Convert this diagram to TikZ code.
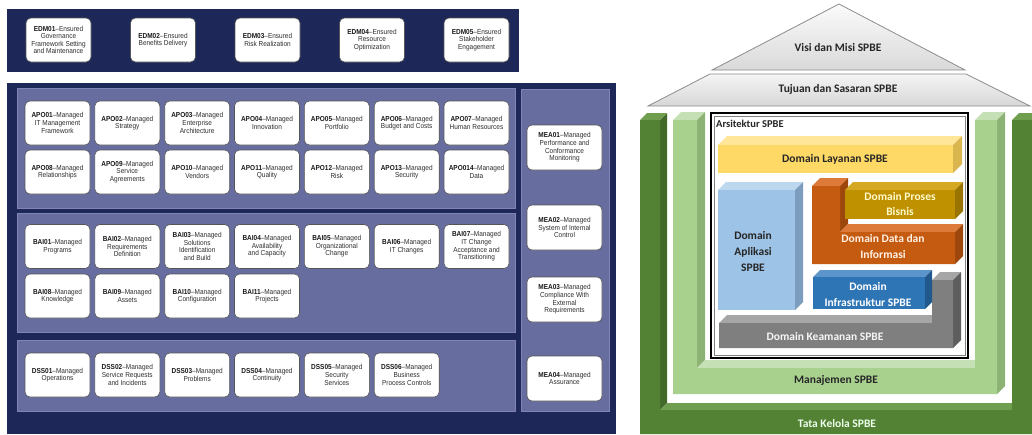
\documentclass[tikz,border=0pt]{standalone}
\usepackage{fontspec}
\setmainfont{Liberation Sans}
\newfontfamily\cobitfont[FakeStretch=0.9]{Liberation Sans}
\newfontfamily\spbefont{Carlito}
\definecolor{navy}{HTML}{1D2858}
\definecolor{lav}{HTML}{686D9F}
\definecolor{lavedge}{HTML}{7F84B5}
\definecolor{boxedge}{HTML}{555555}
\definecolor{cbtext}{HTML}{2E2E2E}
% SPBE palette
\definecolor{roofedge}{HTML}{8C8C8C}
\definecolor{dgF}{HTML}{548235}
\definecolor{dgT}{HTML}{6E9E4E}
\definecolor{dgS}{HTML}{42692A}
\definecolor{lgF}{HTML}{A9D18E}
\definecolor{lgT}{HTML}{C5E0B4}
\definecolor{lgS}{HTML}{8CB274}
\definecolor{yeF}{HTML}{FFD966}
\definecolor{yeT}{HTML}{FFE699}
\definecolor{yeS}{HTML}{D9B64E}
\definecolor{blF}{HTML}{9DC3E6}
\definecolor{blT}{HTML}{BDD7EE}
\definecolor{blS}{HTML}{7C9DBD}
\definecolor{orF}{HTML}{C55A11}
\definecolor{orT}{HTML}{DD7A3A}
\definecolor{orS}{HTML}{9E470C}
\definecolor{goF}{HTML}{BF9000}
\definecolor{goT}{HTML}{D4A820}
\definecolor{goS}{HTML}{9A7400}
\definecolor{inF}{HTML}{2E75B6}
\definecolor{inT}{HTML}{5B95CC}
\definecolor{inS}{HTML}{22598C}
\definecolor{kaF}{HTML}{7F7F7F}
\definecolor{kaT}{HTML}{A6A6A6}
\definecolor{kaS}{HTML}{5E5E5E}

% a box with a front face, a top face and a right face: x1,y1,x2,y2,depth,front,top,side
\newcommand\spbebox[8]{%
  \fill[#7] (#1,#2) -- (#1+#5,#2-#5) -- (#3+#5,#2-#5) -- (#3,#2) -- cycle;
  \fill[#8] (#3,#2) -- (#3+#5,#2-#5) -- (#3+#5,#4-#5) -- (#3,#4) -- cycle;
  \fill[#6] (#1,#2) rectangle (#3,#4);
}

\tikzset{
  cbox/.style={rectangle, rounded corners=5pt, fill=white, draw=boxedge,
    line width=0.6pt, minimum width=65pt, minimum height=44pt, align=center,
    inner sep=1pt, text=cbtext, font=\cobitfont\fontsize{7.2}{7.6}\selectfont},
  mbox/.style={cbox, minimum width=75pt, minimum height=45pt},
  band/.style={fill=lav, draw=lavedge, line width=0.6pt},
  label/.style={font=\spbefont\bfseries\fontsize{11.5}{13}\selectfont, align=center, inner sep=0pt},
}
\newcommand\code[1]{\textbf{\color{black!90}#1}}

\begin{document}
\begin{tikzpicture}[x=1pt,y=-1pt]
\useasboundingbox (0,0) rectangle (1032,434);
\fill[white] (0,0) rectangle (1032,434);

% ---------------- COBIT domains ----------------
\fill[navy] (7,9) rectangle (519,72);
\fill[navy] (7,83) rectangle (616,434);
\filldraw[band] (17,88) rectangle (515,208);
\filldraw[band] (17,213) rectangle (515,332);
\filldraw[band] (17,340) rectangle (515,411);
\filldraw[band] (521,89) rectangle (609,411);

% EDM
\node[cbox] (edm1) at (58.5,40) {\code{EDM01}–Ensured\\Governance\\Framework Setting\\and Maintenance};
\node[cbox] (edm2) at (163,40) {\code{EDM02}–Ensured\\Benefits Delivery};
\node[cbox] (edm3) at (267.5,40) {\code{EDM03}–Ensured\\Risk Realization};
\node[cbox] (edm4) at (372,40) {\code{EDM04}–Ensured\\Resource\\Optimization};
\node[cbox] (edm5) at (476.5,40) {\code{EDM05}–Ensured\\Stakeholder\\Engagement};

% APO
\node[cbox] (apo1) at (57.5,123) {\code{APO01}–Managed\\IT Management\\Framework};
\node[cbox] (apo2) at (127.3,123) {\code{APO02}–Managed\\Strategy};
\node[cbox] (apo3) at (197.2,123) {\code{APO03}–Managed\\Enterprise\\Architecture};
\node[cbox] (apo4) at (267,123) {\code{APO04}–Managed\\Innovation};
\node[cbox] (apo5) at (336.8,123) {\code{APO05}–Managed\\Portfolio};
\node[cbox] (apo6) at (406.7,123) {\code{APO06}–Managed\\Budget and Costs};
\node[cbox] (apo7) at (476.5,123) {\code{APO07}–Managed\\Human Resources};
\node[cbox] (apo8) at (57.5,172) {\code{APO08}–Managed\\Relationships};
\node[cbox] (apo9) at (127.3,172) {\code{APO09}–Managed\\Service\\Agreements};
\node[cbox] (apo10) at (197.2,172) {\code{APO10}–Managed\\Vendors};
\node[cbox] (apo11) at (267,172) {\code{APO11}–Managed\\Quality};
\node[cbox] (apo12) at (336.8,172) {\code{APO12}–Managed\\Risk};
\node[cbox] (apo13) at (406.7,172) {\code{APO13}–Managed\\Security};
\node[cbox] (apo14) at (476.5,172) {\code{APO014}–Managed\\Data};

% BAI
\node[cbox] (bai1) at (57.5,246.5) {\code{BAI01}–Managed\\Programs};
\node[cbox] (bai2) at (127.3,246.5) {\code{BAI02}–Managed\\Requirements\\Definition};
\node[cbox] (bai3) at (197.2,246.5) {\code{BAI03}–Managed\\Solutions\\Identification\\and Build};
\node[cbox] (bai4) at (267,246.5) {\code{BAI04}–Managed\\Availability\\and Capacity};
\node[cbox] (bai5) at (336.8,246.5) {\code{BAI05}–Managed\\Organizational\\Change};
\node[cbox] (bai6) at (406.7,246.5) {\code{BAI06}–Managed\\IT Changes};
\node[cbox] (bai7) at (476.5,246.5) {\code{BAI07}–Managed\\IT Change\\Acceptance and\\Transitioning};
\node[cbox] (bai8) at (57.5,296) {\code{BAI08}–Managed\\Knowledge};
\node[cbox] (bai9) at (127.3,296) {\code{BAI09}–Managed\\Assets};
\node[cbox] (bai10) at (197.2,296) {\code{BAI10}–Managed\\Configuration};
\node[cbox] (bai11) at (267,296) {\code{BAI11}–Managed\\Projects};

% DSS
\node[cbox] (dss1) at (57.5,375) {\code{DSS01}–Managed\\Operations};
\node[cbox] (dss2) at (127.3,375) {\code{DSS02}–Managed\\Service Requests\\and Incidents};
\node[cbox] (dss3) at (197.2,375) {\code{DSS03}–Managed\\Problems};
\node[cbox] (dss4) at (267,375) {\code{DSS04}–Managed\\Continuity};
\node[cbox] (dss5) at (336.8,375) {\code{DSS05}–Managed\\Security\\Services};
\node[cbox] (dss6) at (406.7,375) {\code{DSS06}–Managed\\Business\\Process Controls};

% MEA
\node[mbox] (mea1) at (564.5,147.5) {\code{MEA01}–Managed\\Performance and\\Conformance\\Monitoring};
\node[mbox] (mea2) at (564.5,227.5) {\code{MEA02}–Managed\\System of Internal\\Control};
\node[mbox] (mea3) at (564.5,299.5) {\code{MEA03}–Managed\\Compliance With\\External\\Requirements};
\node[mbox] (mea4) at (564.5,378.5) {\code{MEA04}–Managed\\Assurance};

% ---------------- SPBE house ----------------
% roof
\shade[top color=gray!3, bottom color=gray!30, draw=roofedge, line width=0.8pt]
  (839,4) -- (965,70) -- (712,70) -- cycle;
\shade[top color=gray!8, bottom color=gray!32, draw=roofedge, line width=0.8pt]
  (710,74) -- (966,74) -- (1030,106) -- (648,106) -- cycle;

% Tata Kelola (outer U)
\fill[dgS] (660,120) -- (667,113) -- (667,403) -- (660,410) -- cycle;
\fill[dgT] (640,120) -- (647,113) -- (667,113) -- (660,120) -- cycle;
\fill[dgT] (660,410) -- (667,403) -- (1019,403) -- (1012,410) -- cycle;
\fill[dgT] (1012,120) -- (1019,113) -- (1032,113) -- (1032,120) -- cycle;
\fill[dgF] (640,120) -- (660,120) -- (660,410) -- (1012,410) -- (1012,120)
  -- (1032,120) -- (1032,434) -- (640,434) -- cycle;

% Manajemen (inner U)
\fill[lgT] (673,120) -- (681,112) -- (705,112) -- (697,120) -- cycle;
\fill[lgS] (697,120) -- (705,112) -- (705,360) -- (697,368) -- cycle;
\fill[lgT] (697,368) -- (705,360) -- (983,360) -- (975,368) -- cycle;
\fill[lgT] (975,120) -- (983,112) -- (1005,112) -- (997,120) -- cycle;
\fill[lgS] (997,120) -- (1005,112) -- (1005,386) -- (997,394) -- cycle;
\fill[lgF] (673,120) -- (697,120) -- (697,368) -- (975,368) -- (975,120)
  -- (997,120) -- (997,394) -- (673,394) -- cycle;

% Arsitektur frame
\draw[fill=white, line width=1.4pt, draw=black] (711,113) rectangle (968,358);
\draw[line width=0.5pt, draw=gray] (714,116) rectangle (965,355);

% Layanan
\spbebox{718}{145}{953}{173}{9}{yeF}{yeT}{yeS}
% Aplikasi
\spbebox{718}{190}{795}{310}{8}{blF}{blT}{blS}
% Data dan Informasi (L shape)
\fill[orT] (812,186) -- (820,178) -- (848,178) -- (840,186) -- cycle;
\fill[orS] (840,186) -- (848,178) -- (848,224) -- (840,232) -- cycle;
\fill[orT] (840,232) -- (848,224) -- (963,224) -- (955,232) -- cycle;
\fill[orS] (955,232) -- (963,224) -- (963,256) -- (955,264) -- cycle;
\fill[orF] (812,186) -- (840,186) -- (840,232) -- (955,232) -- (955,264) -- (812,264) -- cycle;
% Proses Bisnis
\spbebox{845}{190}{955}{219}{8}{goF}{goT}{goS}
% Keamanan (L shape)
\fill[kaT] (719,323) -- (727,315) -- (940,315) -- (932,323) -- cycle;
\fill[kaT] (932,280) -- (940,272) -- (961,272) -- (953,280) -- cycle;
\fill[kaS] (953,280) -- (961,272) -- (961,340) -- (953,348) -- cycle;
\fill[kaF] (719,323) -- (932,323) -- (932,280) -- (953,280) -- (953,348) -- (719,348) -- cycle;
% Infrastruktur
\spbebox{813}{277}{925}{309}{7}{inF}{inT}{inS}

% labels
\node[label, text=black!85] (visi) at (838,48) {Visi dan Misi SPBE};
\node[label, text=black!85] (tujuan) at (838,89) {Tujuan dan Sasaran SPBE};
\node[label, anchor=west, text=black!85, font=\spbefont\bfseries\fontsize{10.5}{12}\selectfont] (arsi) at (716,124) {Arsitektur SPBE};
\node[label, text=black!85] (layanan) at (835,159) {Domain Layanan SPBE};
\node[label, text=black!85, font=\spbefont\bfseries\fontsize{11.5}{16}\selectfont] (aplikasi) at (753,251) {Domain\\Aplikasi\\SPBE};
\node[label, text=yellow!20, font=\spbefont\bfseries\fontsize{11.5}{15}\selectfont] (proses) at (900,204) {Domain Proses\\Bisnis};
\node[label, text=orange!10, font=\spbefont\bfseries\fontsize{11.5}{16}\selectfont] (data) at (883,247) {Domain Data dan\\Informasi};
\node[label, text=white, font=\spbefont\bfseries\fontsize{11.5}{16}\selectfont] (infra) at (868,295) {Domain\\Infrastruktur SPBE};
\node[label, text=gray!8] (keamanan) at (825,337) {Domain Keamanan SPBE};
\node[label, text=black!85] (manajemen) at (836,380) {Manajemen SPBE};
\node[label, text=green!8] (tatakelola) at (837,423) {Tata Kelola SPBE};
\end{tikzpicture}
\end{document}
